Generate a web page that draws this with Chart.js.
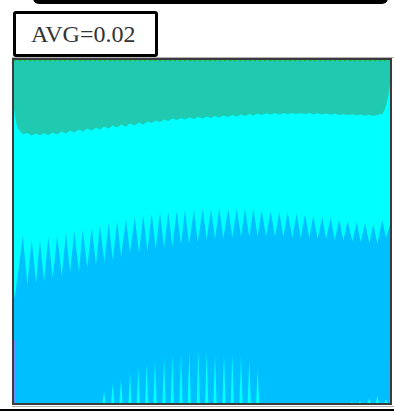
<!DOCTYPE html>
<html>
<head>
<meta charset="utf-8">
<script src="https://cdn.jsdelivr.net/npm/chart.js@4/dist/chart.umd.min.js"></script>
<style>
  html, body { margin: 0; padding: 0; background: #fff; }
  body { width: 394px; height: 412px; position: relative; overflow: hidden; }
  .capbar { position: absolute; left: 33px; top: -20px; width: 355px; height: 23.5px; background: #000; border-radius: 6px; }
  .avgbox { position: absolute; left: 13px; top: 11px; width: 145px; height: 46px; box-sizing: border-box;
            border: 3px solid #000; border-radius: 3px; background: #fff; }
  .avgtext { position: absolute; left: 31px; top: 21.5px; font-family: "Liberation Serif", "DejaVu Serif", serif;
             font-size: 24px; line-height: 24px; color: #333; white-space: nowrap; }
  .rule { position: absolute; height: 1px; background: #b4b4b4; }
  .baseline { position: absolute; left: 0; top: 409px; width: 394px; height: 2px; background: #000; }
  .frame { position: absolute; left: 12px; top: 58px; width: 376px; height: 343px; border: 2px solid #3c3c3c; }
  .frame canvas { display: block; }
</style>
</head>
<body>
<div class="capbar"></div>
<div class="avgbox"></div>
<div class="avgtext" id="avg"></div>
<div class="rule" style="left:12px; top:57px; width:382px;"></div>
<div class="frame"><canvas id="c" width="376" height="343"></canvas></div>
<div class="rule" style="left:12px; top:406px; width:382px;"></div>
<div class="baseline"></div>
<script>
// Field average shown in the label box
const avgValue = 0.02;

// Plot extent (horizontal position, depth from the top edge)
const xRange = [0, 376];
const depthRange = [0, 343];

// Boundary between the top band and the middle band
const upperEdgeX = [0, 1, 2.5, 4.3, 8.7, 13.3, 17.7, 22, 26, 30, 34.3, 38.7, 43.3, 47.7, 52, 56, 60.3, 65, 68.7, 73.3,
  77.7, 82, 86, 90.3, 94.7, 98.7, 103.3, 107, 112, 116, 120.7, 125, 129.3, 133.3, 137.7, 141.7, 146, 150, 154.3, 158.3,
  162.7, 167, 171, 175, 180, 183.7, 188.7, 192.7, 197, 201, 205.3, 209.3, 214.3, 218.3, 222.7, 227, 231, 235.3, 239.3,
  243.7, 247.7, 252, 256.7, 261, 265.3, 269.3, 273.7, 278.3, 282.7, 286.7, 291, 295.3, 299.3, 303.7, 308.3, 312, 316.7,
  320.7, 325.3, 329.3, 333.7, 338.3, 342.7, 346.7, 351, 355.3, 359.3, 363.3, 368.3, 370.5, 372.5, 374.5, 376];
const upperEdgeY = [48, 56, 64, 69, 74, 73, 75.5, 73.5, 75.5, 73, 75, 72.5, 74.5, 71.5, 73.5, 70.5, 72.5, 69.5, 71.5, 68.5,
  70.5, 67.5, 69.5, 66.5, 68.5, 65.5, 67.5, 64.5, 66.5, 63.5, 65.5, 62.5, 64.5, 61.5, 63, 60.5, 62, 59.5, 61, 58.5,
  60, 58, 59.5, 57.5, 59, 57, 58.5, 56.5, 58, 56, 57.5, 55.5, 57, 55, 56.5, 54.5, 56, 54, 55.5,
  53.5, 55, 53.3, 54.5, 53, 54.5, 53, 54.3, 53, 54.3, 53, 54.3, 53, 54.3, 53.2, 54.5, 53.5, 54.8,
  53.7, 55, 54, 55.3, 54.3, 55.5, 54.5, 55.7, 54.7, 56, 55, 54, 50, 44, 35, 25];

// Boundary between the middle band and the lower band
const lowerEdgeX = [0, 1.5, 4.3, 8.7, 13.3, 17.7, 22, 26, 30, 34.3, 38.7, 43.3, 47.7, 52, 56, 60.3, 65, 68.7, 73.3,
  77.7, 82, 86, 90.3, 94.7, 98.7, 103.3, 107, 112, 116, 120.7, 125, 129.3, 133.3, 137.7, 141.7, 146, 150, 154.3, 158.3,
  162.7, 167, 171, 175, 180, 183.7, 188.7, 192.7, 197, 201, 205.3, 209.3, 214.3, 218.3, 222.7, 227, 231, 235.3, 239.3,
  243.7, 247.7, 252, 256.7, 261, 265.3, 269.3, 273.7, 278.3, 282.7, 286.7, 291, 295.3, 299.3, 303.7, 308.3, 312, 316.7,
  320.7, 325.3, 329.3, 333.7, 338.3, 342.7, 346.7, 351, 355.3, 359.3, 363.3, 368.3, 372, 376];
const lowerEdgeY = [238, 232, 211.7, 175, 225, 180, 223, 180, 221.7, 176.7, 218, 175, 216.7, 173, 213, 171, 211.7, 169, 208,
  167, 205, 165, 201.7, 163, 200, 161, 196.7, 159, 193.3, 157, 193.3, 155, 191.7, 153.3, 189.3, 152.3, 188.3, 151.7, 186.7,
  151, 185, 150, 184, 150, 182.3, 149, 180, 149, 179.3, 148.3, 178.3, 149, 177.7, 149, 177.3, 149, 177.3, 149,
  176.7, 150, 176.7, 151, 177.3, 151.7, 177.3, 152.3, 177.7, 153.3, 178.3, 154.3, 178.3, 155.7, 179.3, 156.7, 179.3, 157.7,
  180, 159, 180.7, 160.7, 181.7, 161.7, 182.3, 163.3, 183.3, 164.3, 184, 160, 177.7, 165];

// Thin streaks of the middle band rising from the bottom edge
const streakX = [90, 98.7, 107, 116, 124.3, 132.7, 141, 150, 158.3, 167, 175.3, 184.3, 192.7, 201, 210, 218.3, 227,
  235.3, 243.7, 337.7, 346, 355.3, 363.3, 372];
const streakY = [331.7, 323.3, 318.3, 312.7, 307.3, 303.3, 300, 296.7, 294, 292.3, 290.7, 290, 290.7, 291.7, 292.7, 294,
  296, 299.3, 308.3, 341.7, 341, 338.3, 336, 339.3];

const BAND_TOP = '#1fcab0';
const BAND_MID = '#00ffff';
const BAND_LOW = '#00bfff';

document.getElementById('avg').textContent = 'AVG=' + avgValue.toFixed(2);

const zip = (xs, ys) => xs.map((x, i) => ({ x, y: ys[i] }));

// each streak is a narrow wedge standing on the bottom edge
const streakPoints = [];
streakX.forEach((x, i) => {
  streakPoints.push({ x: x - 1.6, y: depthRange[1] });
  streakPoints.push({ x: x, y: streakY[i] });
  streakPoints.push({ x: x + 1.6, y: depthRange[1] });
});

const plotBackground = {
  id: 'plotBackground',
  beforeDatasetsDraw(chart) {
    const { ctx, chartArea: a } = chart;
    ctx.save();
    ctx.fillStyle = BAND_LOW;
    ctx.fillRect(a.left, a.top, a.right - a.left, a.bottom - a.top);
    ctx.restore();
  }
};

new Chart(document.getElementById('c'), {
  type: 'line',
  data: {
    datasets: [
      {
        label: 'top rim',
        data: [{ x: xRange[0], y: 0.6 }, { x: xRange[1], y: 0.6 }],
        borderColor: '#22c322', borderWidth: 1.4, borderDash: [2, 3], fill: false, order: 0
      },
      {
        label: 'left rim',
        data: [{ x: 0.6, y: 280 }, { x: 0.6, y: depthRange[1] }],
        borderColor: 'rgba(150,120,255,0.7)', borderWidth: 1.2, fill: false, order: 0
      },
      {
        label: 'right rim',
        data: [{ x: 375.4, y: 300 }, { x: 375.4, y: depthRange[1] }],
        borderColor: 'rgba(150,120,255,0.6)', borderWidth: 1.2, fill: false, order: 0
      },
      {
        label: 'streaks',
        data: streakPoints,
        borderWidth: 0, backgroundColor: BAND_MID, fill: { value: depthRange[1] }, order: 1
      },
      {
        label: 'upper band',
        data: zip(upperEdgeX, upperEdgeY),
        borderWidth: 0, backgroundColor: BAND_TOP, fill: { value: depthRange[0] }, order: 2
      },
      {
        label: 'middle band',
        data: zip(lowerEdgeX, lowerEdgeY),
        borderWidth: 0, backgroundColor: BAND_MID, fill: { value: depthRange[0] }, order: 3
      }
    ]
  },
  options: {
    responsive: false,
    animation: false,
    events: [],
    layout: { padding: 0 },
    elements: { point: { radius: 0 }, line: { tension: 0 } },
    plugins: { legend: { display: false }, tooltip: { enabled: false }, title: { display: false } },
    scales: {
      x: { type: 'linear', min: xRange[0], max: xRange[1], display: false },
      y: { type: 'linear', min: depthRange[0], max: depthRange[1], reverse: true, display: false }
    }
  },
  plugins: [plotBackground]
});
</script>
</body>
</html>
